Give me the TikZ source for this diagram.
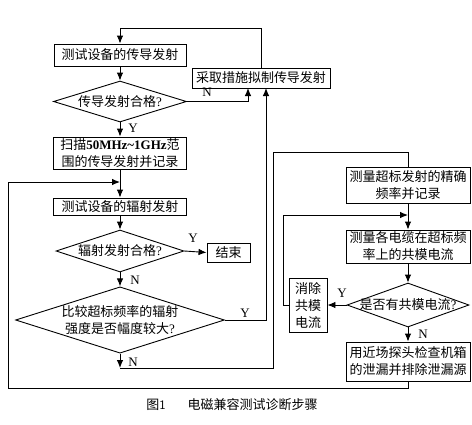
\documentclass[tikz,border=0pt]{standalone}
\usepackage{fontspec}
\setmainfont{Liberation Serif}
\newfontfamily\cjk{Noto Sans CJK SC}
\usepackage{tikz}
\usetikzlibrary{shapes,positioning}
\usetikzlibrary{calc}
\usetikzlibrary{arrows.meta}
\newcommand{\lat}[1]{{\rmfamily #1}}
\tikzset{
	boite/.style={draw,rectangle,inner sep=1pt,align=center,font=\cjk\fontsize{13}{17}\selectfont},
	losange/.style={draw,diamond,inner sep=0pt,aspect=#1,align=center,font=\cjk\fontsize{13}{17}\selectfont},
	etiq/.style={inner sep=1pt,font=\fontsize{13}{15}\selectfont},
	fl/.style={-{Latex[length=8pt,width=6.5pt]}}
}

\begin{document}
\begin{tikzpicture}[x=1pt,y=-1pt,line width=0.9pt]
	\useasboundingbox (0,0) rectangle (472,424);

	%Colonne de gauche
	\node[boite,minimum width=132pt,minimum height=22pt] (b1) at (120,55) {测试设备的传导发射};
	\node[losange=3.2,minimum width=133pt,minimum height=41pt] (d1) at (120,101.5) {传导发射合格\lat{?}};
	\node[boite,minimum width=138pt,minimum height=20pt] (b2) at (261,78) {采取措施拟制传导发射};
	\node[boite,minimum width=133pt,minimum height=32pt] (b3) at (120,153) {扫描\lat{\bfseries 50MHz\textasciitilde1GHz}范\\围的传导发射并记录};
	\node[boite,minimum width=133pt,minimum height=17pt] (b4) at (120,206.5) {测试设备的辐射发射};
	\node[losange=3,minimum width=128pt,minimum height=42pt] (d2) at (120,251) {辐射发射合格\lat{?}};
	\node[boite,minimum width=43pt,minimum height=19pt] (fin) at (228.5,252.5) {结束};
	\node[losange=3.15,minimum width=208pt,minimum height=66pt] (d3) at (120,320) {比较超标频率的辐射\\强度是否幅度较大\lat{?}};

	%Colonne de droite
	\node[boite,minimum width=124pt,minimum height=36pt] (b5) at (408,185) {测量超标发射的精确\\频率并记录};
	\node[boite,minimum width=124pt,minimum height=33pt] (b6) at (408,246.5) {测量各电缆在超标频\\率上的共模电流};
	\node[losange=2.8,inner xsep=-8pt,minimum width=122pt,minimum height=44pt] (d4) at (408,305) {是否有共模电流\lat{?}};
	\node[boite,minimum width=38pt,minimum height=54pt] (b8) at (308,305) {消除\\共模\\电流};
	\node[boite,minimum width=124pt,minimum height=39pt] (b7) at (408,361.5) {用近场探头检查机箱\\的泄漏并排除泄漏源};

	%Points de passage
	\coordinate (h1) at (120,28);
	\coordinate (b2a) at (248,88);
	\coordinate (b2b) at (266,88);
	\coordinate (c1) at (120,368);
	\coordinate (c2) at (273,152);
	\coordinate (o1) at (408,388);
	\coordinate (o2) at (8,182);
	\coordinate (o3) at (120,182);
	\coordinate (g1) at (283,305);
	\coordinate (g2) at (408,215);

	%Fleches
	\draw[fl] (b2.north) |- (h1) -- (b1.north);
	\draw[fl] (b1.south) -- (d1.north);
	\draw[fl] (d1.east) -| (b2a);
	\draw[fl] (d1.south) -- (b3.north);
	\draw[fl] (b3.south) -- (b4.north);
	\draw[fl] (b4.south) -- (d2.north);
	\draw[fl] (d2.east) -- (fin.west);
	\draw[fl] (d2.south) -- (d3.north);
	\draw[fl] (d3.east) -| (b2b);
	\draw[fl] (d3.south) -- (c1);
	\draw (c1) -| (c2) -| (b5.north);
	\draw[fl] (b5.south) -- (b6.north);
	\draw[fl] (b6.south) -- (d4.north);
	\draw[fl] (d4.west) -- (b8.east);
	\draw[fl] (b8.west) -- (g1) |- (g2);
	\draw[fl] (d4.south) -- (b7.north);
	\draw[fl] (b7.south) -- (o1) -| (o2) -- (o3);

	%Etiquettes Y/N
	\node[etiq] (n1) at (207,92) {N};
	\node[etiq] (y1) at (133,128) {Y};
	\node[etiq] (y2) at (193,238) {Y};
	\node[etiq] (n2) at (135,280) {N};
	\node[etiq] (y3) at (245,313) {Y};
	\node[etiq] (n3) at (133,362) {N};
	\node[etiq] (y4) at (342,293) {Y};
	\node[etiq] (n4) at (423,334) {N};

	%Legende
	\node[font=\cjk\fontsize{13}{15}\selectfont] (titre) at (232,405) {图\lat{\sffamily 1}\hspace{1.7em}电磁兼容测试诊断步骤};
\end{tikzpicture}
\end{document}
